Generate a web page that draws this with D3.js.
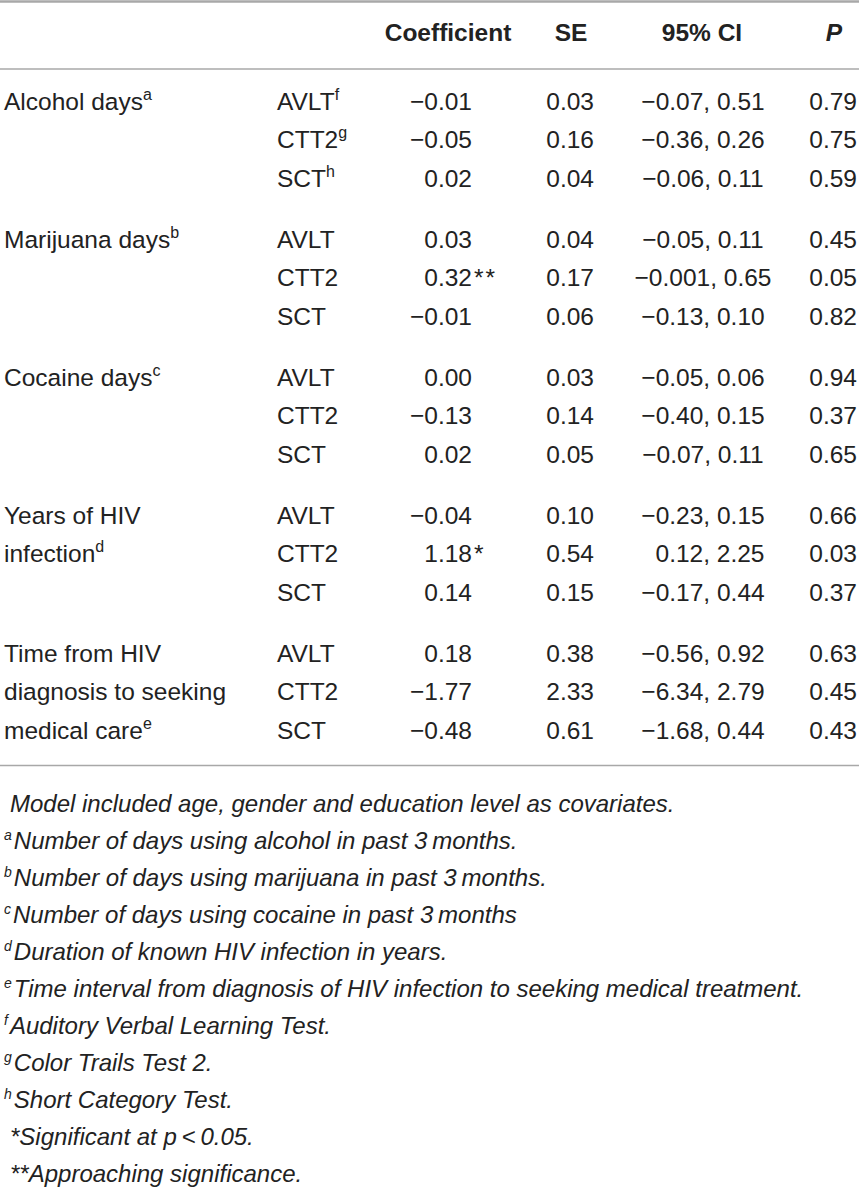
<!DOCTYPE html>
<html>
<head>
<meta charset="utf-8">
<script src="https://cdn.jsdelivr.net/npm/d3@7"></script>
<style>
    body { margin: 0; background: #fff; }
    svg text { font-family: "Liberation Sans", Arial, Helvetica, sans-serif; fill: #222; }
</style>
</head>
<body>
<div id="chart"></div>
<script>
// Data
const groups = ["Alcohol days", "Marijuana days", "Cocaine days", "Years of HIV infection", "Time from HIV diagnosis to seeking medical care"];
const groupLines = [["Alcohol days"], ["Marijuana days"], ["Cocaine days"], ["Years of HIV", "infection"], ["Time from HIV", "diagnosis to seeking", "medical care"]];
const groupNotes = ["a", "b", "c", "d", "e"];
const tests = ["AVLT", "CTT2", "SCT"];
const testNotes = ["f", "g", "h"];
const headers = ["Coefficient", "SE", "95% CI", "P"];

const coefficients = [[-0.01, -0.05, 0.02], [0.03, 0.32, -0.01], [0.00, -0.13, 0.02], [-0.04, 1.18, 0.14], [0.18, -1.77, -0.48]];
const coefMarks = [["", "", ""], ["", "**", ""], ["", "", ""], ["", "*", ""], ["", "", ""]];
const standardErrors = [[0.03, 0.16, 0.04], [0.04, 0.17, 0.06], [0.03, 0.14, 0.05], [0.10, 0.54, 0.15], [0.38, 2.33, 0.61]];
const ciLower = [[-0.07, -0.36, -0.06], [-0.05, -0.001, -0.13], [-0.05, -0.40, -0.07], [-0.23, 0.12, -0.17], [-0.56, -6.34, -1.68]];
const ciUpper = [[0.51, 0.26, 0.11], [0.11, 0.65, 0.10], [0.06, 0.15, 0.11], [0.15, 2.25, 0.44], [0.92, 2.79, 0.44]];
const pValues = [[0.79, 0.75, 0.59], [0.45, 0.05, 0.82], [0.94, 0.37, 0.65], [0.66, 0.03, 0.37], [0.63, 0.45, 0.43]];

const footnoteMarks = ["", "a", "b", "c", "d", "e", "f", "g", "h", "", ""];
const footnoteTexts = [
    "Model included age, gender and education level as covariates.",
    "Number of days using alcohol in past 3\u2009months.",
    "Number of days using marijuana in past 3\u2009months.",
    "Number of days using cocaine in past 3\u2009months",
    "Duration of known HIV infection in years.",
    "Time interval from diagnosis of HIV infection to seeking medical treatment.",
    "Auditory Verbal Learning Test.",
    "Color Trails Test 2.",
    "Short Category Test.",
    "*Significant at p\u2009<\u20090.05.",
    "**Approaching significance."
];

const width = 859;
const height = 1193;
const fontSize = 24.5;

const fmt = v => d3.format(Math.abs(v) > 0 && Math.abs(v) < 0.01 ? ".3f" : ".2f")(v);

const svg = d3.select("#chart")
    .append("svg")
    .attr("width", width)
    .attr("height", height);

// Scales
const yGroup = d3.scalePoint().domain(groups).range([110, 662]);
const yRow = d3.scaleLinear().domain([0, 2]).range([0, 76.6]);
const colX = d3.scaleOrdinal()
    .domain(["label", "test", "coef", "se", "ci", "p"])
    .range([4, 277, 472, 594, 703, 857]);
const headX = d3.scaleOrdinal()
    .domain(headers)
    .range([448, 571, 702, 834]);
const yNote = d3.scaleLinear().domain([0, footnoteTexts.length - 1]).range([812, 1182]);

// Rules
svg.selectAll("line.rule")
    .data([{ y: 1.5, w: 2.5 }, { y: 69, w: 1.6 }, { y: 765.5, w: 1.6 }])
    .enter()
    .append("line")
    .attr("class", "rule")
    .attr("x1", 0)
    .attr("x2", width)
    .attr("y1", d => d.y)
    .attr("y2", d => d.y)
    .attr("stroke", "#a8a8a8")
    .attr("stroke-width", d => d.w);

// Header
svg.append("g")
    .attr("class", "header")
    .selectAll("text")
    .data(headers)
    .enter()
    .append("text")
    .attr("x", d => headX(d))
    .attr("y", 41)
    .attr("text-anchor", "middle")
    .attr("font-size", fontSize)
    .attr("font-weight", "bold")
    .attr("font-style", d => d === "P" ? "italic" : "normal")
    .text(d => d);

// Body rows
const rows = groups.flatMap((g, gi) => tests.map((t, ti) => ({
    group: g, gi, ti, test: t,
    coef: coefficients[gi][ti],
    mark: coefMarks[gi][ti],
    se: standardErrors[gi][ti],
    lo: ciLower[gi][ti],
    hi: ciUpper[gi][ti],
    p: pValues[gi][ti]
})));

const row = svg.append("g")
    .attr("class", "body")
    .selectAll("g")
    .data(rows)
    .enter()
    .append("g")
    .attr("transform", d => "translate(0," + (yGroup(d.group) + yRow(d.ti)) + ")")
    .attr("font-size", fontSize);

// group label lines
const label = row.filter(d => groupLines[d.gi][d.ti] !== undefined)
    .append("text")
    .attr("x", colX("label"));
label.append("tspan").text(d => groupLines[d.gi][d.ti]);
label.filter(d => d.ti === groupLines[d.gi].length - 1)
    .append("tspan")
    .attr("dy", -10)
    .attr("font-size", 16)
    .text(d => groupNotes[d.gi]);

// test names
const test = row.append("text").attr("x", colX("test"));
test.append("tspan").text(d => d.test);
test.filter(d => d.gi === 0)
    .append("tspan")
    .attr("dy", -10)
    .attr("font-size", 16)
    .text(d => testNotes[d.ti]);

row.append("text")
    .attr("x", colX("coef"))
    .attr("text-anchor", "end")
    .text(d => fmt(d.coef));

row.filter(d => d.mark !== "")
    .append("text")
    .attr("x", colX("coef") + 2)
    .attr("letter-spacing", 2)
    .text(d => d.mark);

row.append("text")
    .attr("x", colX("se"))
    .attr("text-anchor", "end")
    .text(d => fmt(d.se));

row.append("text")
    .attr("x", d => colX("ci") + (d.lo < 0 ? 0 : 7))
    .attr("text-anchor", "middle")
    .text(d => fmt(d.lo) + ", " + fmt(d.hi));

row.append("text")
    .attr("x", colX("p"))
    .attr("text-anchor", "end")
    .text(d => fmt(d.p));

// Footnotes
const notes = svg.append("g")
    .attr("class", "footnotes")
    .selectAll("text")
    .data(footnoteTexts.map((t, i) => ({ text: t, mark: footnoteMarks[i], i })))
    .enter()
    .append("text")
    .attr("x", d => d.mark ? 4 : 10)
    .attr("y", d => yNote(d.i))
    .attr("font-size", 24)
    .attr("font-style", "italic");

notes.filter(d => d.mark)
    .append("tspan")
    .attr("dy", -9)
    .attr("font-size", 14)
    .text(d => d.mark);

notes.append("tspan")
    .attr("dy", d => d.mark ? 9 : 0)
    .attr("dx", d => d.mark ? 2 : 0)
    .text(d => d.text);
</script>
</body>
</html>
